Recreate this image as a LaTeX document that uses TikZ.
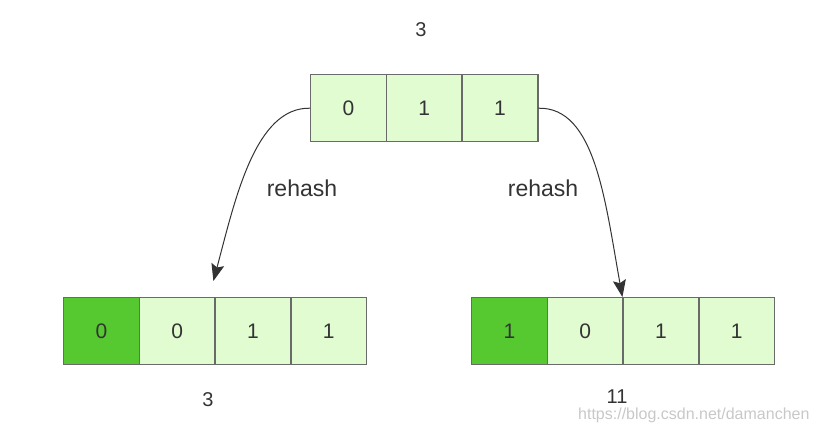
\documentclass[tikz,border=0pt]{standalone}
\usepackage{fontspec}
\setmainfont{Liberation Sans}
\usetikzlibrary{arrows.meta,calc}
\definecolor{lightcell}{HTML}{E2FCD2}
\definecolor{darkcell}{HTML}{55C92F}
\definecolor{cellborder}{HTML}{6A6A6A}
\definecolor{txt}{HTML}{333333}
\definecolor{wm}{HTML}{C8C8C8}
\tikzset{
  cell/.style={draw=cellborder, line width=1.4pt, fill=lightcell, minimum width=75.7pt, minimum height=67pt, inner sep=0pt, text=txt, font=\fontsize{21}{24}\selectfont, anchor=north west},
  darkc/.style={cell, fill=darkcell},
  lbl/.style={text=txt, font=\fontsize{20}{23}\selectfont},
  rlbl/.style={text=txt, font=\fontsize{23}{26}\selectfont},
  conn/.style={draw=black!80, line width=1pt, -{Stealth[length=17pt,width=13pt,inset=3pt]}}
}
\begin{document}
\begin{tikzpicture}[x=1pt,y=-1pt]
\useasboundingbox (0,0) rectangle (814,432);
% top
\node[cell] (t0) at (310,74) {0};
\node[cell] (t1) at (385.7,74) {1};
\node[cell] (t2) at (461.4,74) {1};
\node[lbl] (tl) at (421,30) {3};
% bottom left
\node[darkc] (l0) at (63,297) {0};
\node[cell] (l1) at (138.7,297) {0};
\node[cell] (l2) at (214.4,297) {1};
\node[cell] (l3) at (290.1,297) {1};
\node[lbl] (ll) at (208,400) {3};
% bottom right
\node[darkc] (r0) at (471,297) {1};
\node[cell] (r1) at (546.7,297) {0};
\node[cell] (r2) at (622.4,297) {1};
\node[cell] (r3) at (698.1,297) {1};
\node[lbl, inner sep=1pt] (rl) at (617,397) {11};
% arrows
\coordinate (ltip) at ($(l2.north west)+(-1,-16)$);
\draw[conn] (t0.west) .. controls (255,107) and (235,200) .. (ltip);
\draw[conn] (t2.east) .. controls (595,107) and (605,200) .. (r2.north west);
\node[rlbl] (rh1) at (302,188) {rehash};
\node[rlbl] (rh2) at (543,188) {rehash};
\node[text=wm, font=\fontsize{16}{18}\selectfont, anchor=west, inner sep=0pt] (w) at (578,415) {https://blog.csdn.net/damanchen};
\end{tikzpicture}
\end{document}
